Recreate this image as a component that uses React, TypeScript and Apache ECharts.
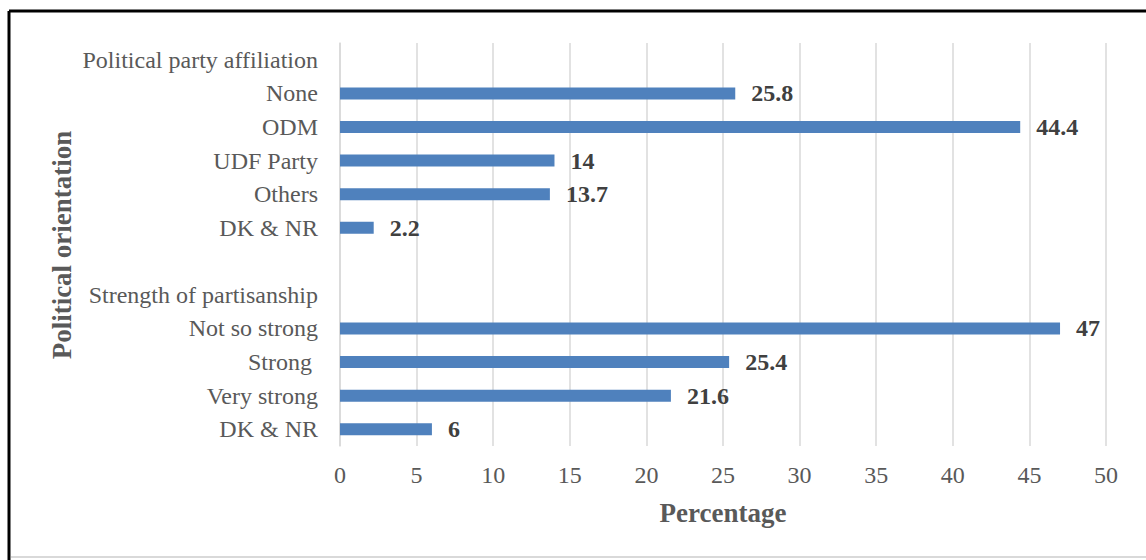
import React, { useEffect, useRef } from "react";
import * as echarts from "echarts";

const categories = [
  "Political party affiliation",
  "None",
  "ODM",
  "UDF Party",
  "Others",
  "DK & NR",
  "",
  "Strength of partisanship",
  "Not so strong",
  "Strong ",
  "Very strong",
  "DK & NR",
];
const values: (number | null)[] = [null, 25.8, 44.4, 14, 13.7, 2.2, null, null, 47, 25.4, 21.6, 6];
const xTicks = [0, 50, 5];
const xTitle = "Percentage";
const yTitle = "Political orientation";

const FONT = "'Liberation Serif', 'Times New Roman', serif";

export default function App() {
  const ref = useRef<HTMLDivElement>(null);
  useEffect(() => {
    document.body.style.margin = "0";
    const chart = echarts.init(ref.current!, null, { renderer: "svg" });
    chart.setOption({
      animation: false,
      backgroundColor: "#ffffff",
      grid: { left: 340, right: 40, top: 43, bottom: 114, containLabel: false },
      xAxis: {
        type: "value",
        min: xTicks[0],
        max: xTicks[1],
        interval: xTicks[2],
        axisLine: { show: false },
        axisTick: { show: false },
        axisLabel: { color: "#595959", fontFamily: FONT, fontSize: 24, margin: 17 },
        splitLine: { lineStyle: { color: "#d9d9d9", width: 1.5 } },
      },
      yAxis: {
        type: "category",
        data: categories,
        inverse: true,
        axisLine: { lineStyle: { color: "#d9d9d9", width: 1.5 } },
        axisTick: { show: false },
        axisLabel: { color: "#595959", fontFamily: FONT, fontSize: 24, margin: 22 },
        splitLine: { show: false },
      },
      series: [
        {
          type: "bar",
          data: values.map((v) => (v === null ? "-" : v)),
          barWidth: 12,
          itemStyle: { color: "#4f81bd" },
          label: {
            show: true,
            position: "right",
            distance: 16,
            color: "#404040",
            fontFamily: FONT,
            fontSize: 24,
            fontWeight: "bold",
          },
        },
      ],
      graphic: [
        { type: "line", shape: { x1: 9, y1: 11, x2: 1146, y2: 11 }, style: { stroke: "#000", lineWidth: 3 } },
        { type: "line", shape: { x1: 9, y1: 11, x2: 9, y2: 560 }, style: { stroke: "#000", lineWidth: 3 } },
        { type: "line", shape: { x1: 11, y1: 557, x2: 1146, y2: 557 }, style: { stroke: "#d9d9d9", lineWidth: 2 } },
        {
          type: "text",
          x: 723,
          y: 513,
          style: {
            text: xTitle,
            fill: "#595959",
            font: `bold 27px ${FONT}`,
            textAlign: "center",
            textVerticalAlign: "middle",
          },
        },
        {
          type: "text",
          x: 62,
          y: 245,
          rotation: Math.PI / 2,
          style: {
            text: yTitle,
            fill: "#595959",
            font: `bold 27px ${FONT}`,
            textAlign: "center",
            textVerticalAlign: "middle",
          },
        },
      ],
    });
    return () => chart.dispose();
  }, []);
  return <div ref={ref} style={{ width: 1146, height: 560 }} />;
}
